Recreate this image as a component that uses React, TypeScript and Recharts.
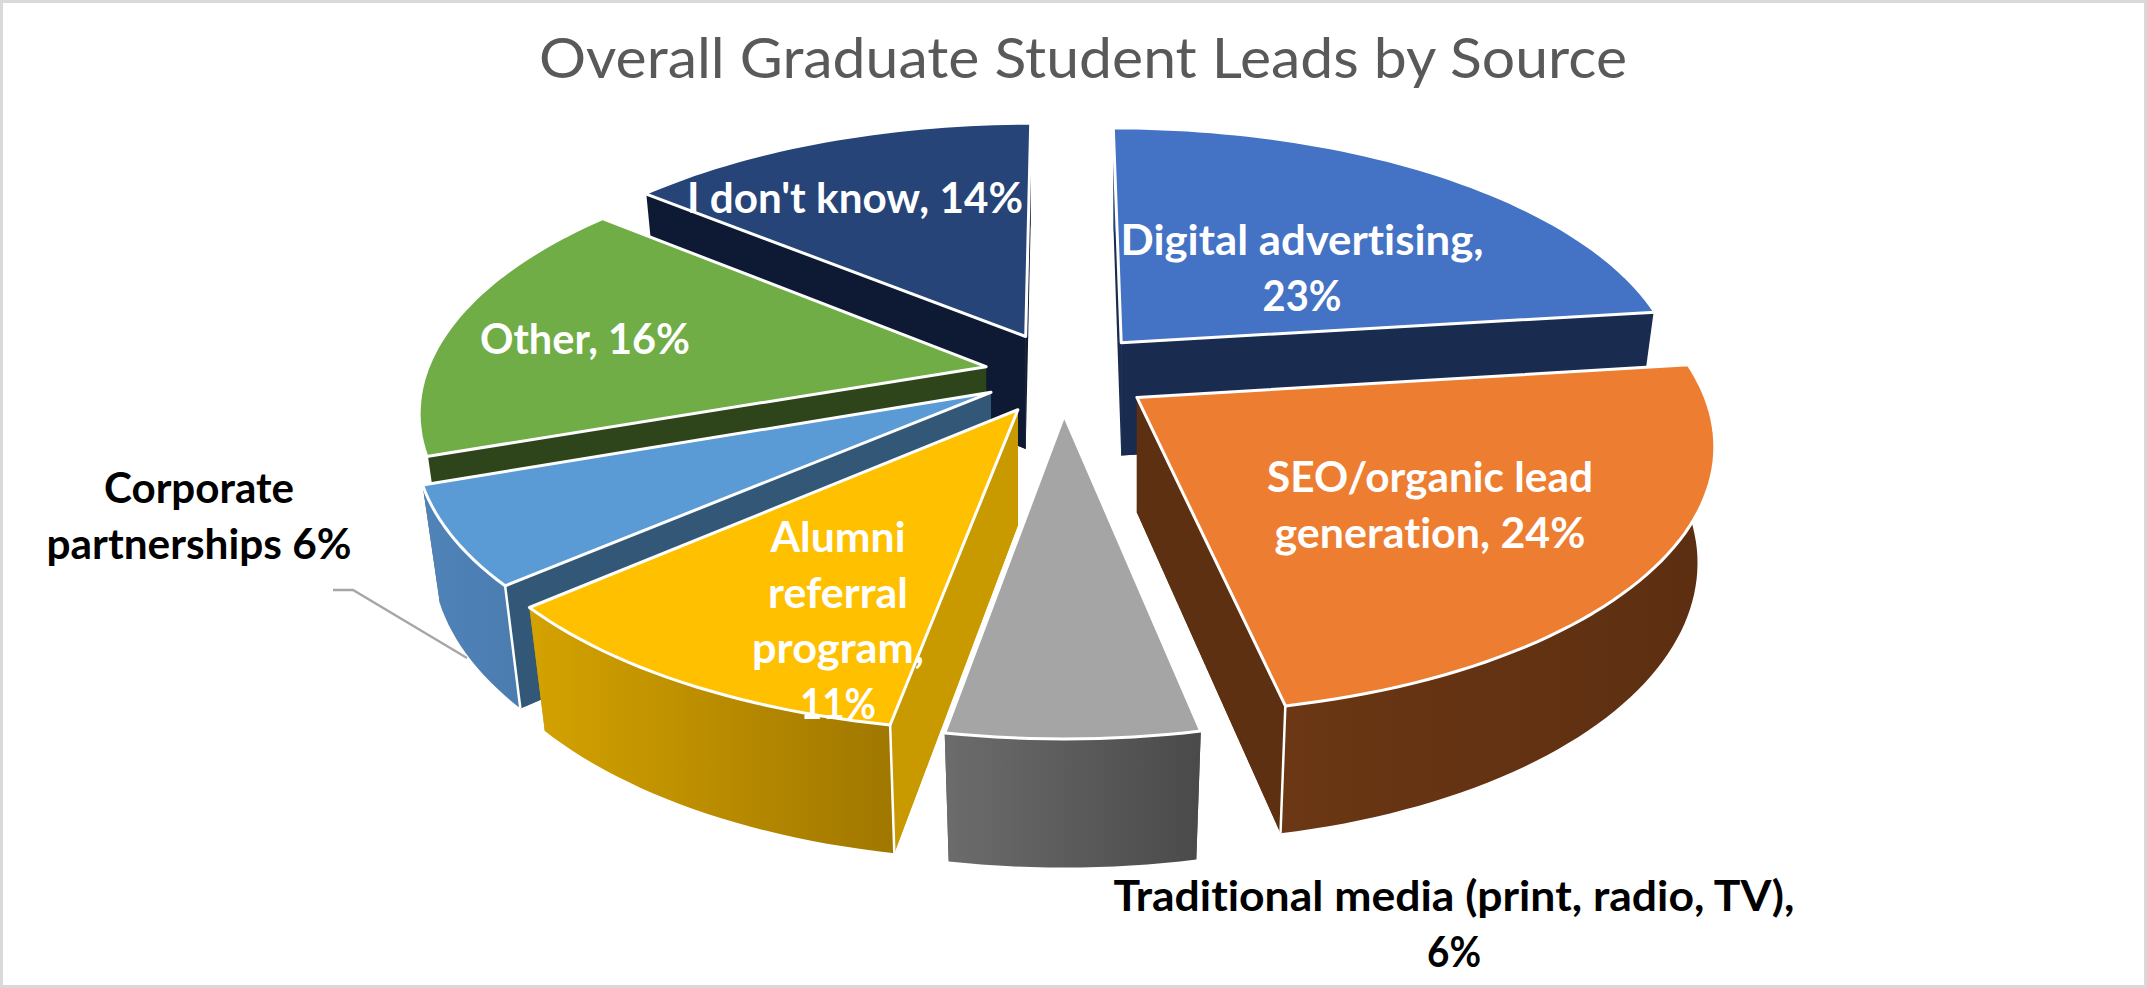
import React from "react";
import { PieChart, Pie } from "recharts";

const sources = [
  "Digital advertising",
  "SEO/organic lead generation",
  "Traditional media (print, radio, TV)",
  "Alumni referral program",
  "Corporate partnerships",
  "Other",
  "I don't know",
];
// Each rounds to the printed percentage.
const shares = [23, 23.8, 6, 10.8, 6, 16.4, 14];
const chartData = sources.map((name, i) => ({ name, value: shares[i] }));

const topColors = ["#4472c4", "#ed7d31", "#a5a5a5", "#ffc000", "#5b9bd5", "#70ad47", "#264478"];
const cutColors = ["#1a2b50", "#5e3012", "#555555", "#c99a00", "#335877", "#2e441a", "#0e1a33"];
const rimFrom = ["#2a4476", "#6b3714", "#6c6c6c", "#d4a200", "#5083b8", "#5d8f38", "#16294a"];
const rimTo = ["#2a4476", "#5c2e11", "#4a4a4a", "#a07700", "#4a7cb0", "#5d8f38", "#16294a"];
const explode = [0.16, 0.16, 0.16, 0.16, 0.147, 0.14, 0.16];
const drawOrder = [6, 0, 5, 4, 3, 2, 1];

const labelLines = [
  ["Digital advertising,", "23%"],
  ["SEO/organic lead", "generation, 24%"],
  ["Traditional media (print, radio, TV),", "6%"],
  ["Alumni", "referral", "program,", "11%"],
  ["Corporate", "partnerships 6%"],
  ["Other, 16%"],
  ["I don't know, 14%"],
];
const labelColors = ["#fff", "#fff", "#000", "#fff", "#000", "#fff", "#fff"];
// centre x, first baseline, line widths
const labelBoxes = [
  { x: 1302, y: 255, w: [363, 79] },
  { x: 1430, y: 492, w: [326, 311] },
  { x: 1454, y: 911, w: [681, 54] },
  { x: 838, y: 552, w: [135, 140, 172, 76] },
  { x: 199, y: 503, w: [190, 305] },
  { x: 585, y: 354, w: [210] },
  { x: 855, y: 213, w: [336] },
];

const TILT = 0.158;
const SQUASH = 0.46;
const DEPTH = 114;
const rad = (d: number) => (d * Math.PI) / 180;

function geometry(props: any) {
  const { cx, cy, outerRadius: R, startAngle, endAngle, index } = props;
  const t0 = 90 - startAngle;
  const t1 = 90 - endAngle;
  const mid = (t0 + t1) / 2;
  const ex = explode[index] * Math.sin(rad(mid));
  const ey = -explode[index] * Math.cos(rad(mid));
  const project = (X: number, Y: number) => {
    const w = 1 - TILT * Y;
    return { x: cx + (R * X) / w, y: cy + (SQUASH * R * Y) / w, w };
  };
  const apex = project(ex, ey);
  const top = (t: number) => project(ex + Math.sin(rad(t)), ey - Math.cos(rad(t)));
  const low = (t: number) => {
    const p = top(t);
    const d = DEPTH / Math.pow(p.w, 0.6);
    return { x: apex.x + (p.x - apex.x) * (1 - d * 0.000256), y: p.y + d };
  };
  return { t0, t1, apex, top, low };
}

const toPath = (pts: { x: number; y: number }[]) =>
  pts.map((p, i) => `${i ? "L" : "M"}${p.x.toFixed(1)} ${p.y.toFixed(1)}`).join(" ") + " Z";

function makeSlice(layer: number) {
  return function Slice(props: any) {
    if (props.index !== layer) return <g />;
    const { t0, t1, apex, top, low } = geometry(props);
    const arc: number[] = [];
    const n = Math.max(6, Math.ceil((t1 - t0) / 1.5));
    for (let i = 0; i <= n; i++) arc.push(t0 + ((t1 - t0) * i) / n);
    const apexLow = { x: apex.x, y: apex.y + DEPTH / Math.pow(apex.w, 0.6) };
    const rimTop = arc.map(top);
    const rimLow = arc.map(low);
    const rimWall = toPath([...rimTop, ...[...rimLow].reverse()]);
    const cutStart = toPath([apex, top(t0), low(t0), apexLow]);
    const cutEnd = toPath([apex, top(t1), low(t1), apexLow]);
    const startShown = Math.sin(rad(t0)) < -0.01;
    const endShown = Math.sin(rad(t1)) > 0.01;
    const fill = cutColors[layer];
    return (
      <g>
        <path d={cutStart} fill={fill} />
        <path d={cutEnd} fill={fill} />
        <path d={rimWall} fill={`url(#rim${layer})`} />
        {startShown && <path d={cutStart} fill={fill} />}
        {endShown && <path d={cutEnd} fill={fill} />}
        {startShown && (
          <line x1={top(t0).x} y1={top(t0).y} x2={low(t0).x} y2={low(t0).y} stroke="#fff" strokeWidth={2.5} />
        )}
        {endShown && (
          <line x1={top(t1).x} y1={top(t1).y} x2={low(t1).x} y2={low(t1).y} stroke="#fff" strokeWidth={2.5} />
        )}
        <path
          d={toPath([apex, ...rimTop])}
          fill={topColors[layer]}
          stroke="#fff"
          strokeWidth={3}
          strokeLinejoin="round"
        />
      </g>
    );
  };
}

function renderLabel(props: any) {
  const i = props.index;
  const box = labelBoxes[i];
  return (
    <g key={i}>
      {i === 4 && <polyline points="333,590 353,590 467,658" fill="none" stroke="#a6a6a6" strokeWidth={2.3} />}
      {labelLines[i].map((line, k) => (
        <text
          key={k}
          x={box.x}
          y={box.y + k * 55.5}
          textAnchor="middle"
          fontFamily="Lato"
          fontWeight={700}
          fontSize={42}
          fill={labelColors[i]}
          textLength={box.w[k]}
          lengthAdjust="spacingAndGlyphs"
          style={{ fontVariantLigatures: "none" }}
        >
          {line}
        </text>
      ))}
    </g>
  );
}

const Nothing = () => <g />;

export default function App() {
  return (
    <div style={{ position: "absolute", left: 0, top: 0, width: 2147, height: 988, background: "#fff" }}>
      <PieChart width={2147} height={988} margin={{ top: 0, right: 0, bottom: 0, left: 0 }}>
        <defs>
          {topColors.map((_, i) => (
            <linearGradient key={i} id={`rim${i}`} x1="0" y1="0" x2="1" y2="0">
              <stop offset="0" stopColor={rimFrom[i]} />
              <stop offset="1" stopColor={rimTo[i]} />
            </linearGradient>
          ))}
        </defs>
        <rect x={1.5} y={1.5} width={2144} height={985} fill="#fff" stroke="#d9d9d9" strokeWidth={3} />
        <text
          x={1083}
          y={78}
          textAnchor="middle"
          fontFamily="Lato"
          fontSize={56}
          fill="#595959"
          textLength={1088}
          lengthAdjust="spacingAndGlyphs"
          style={{ fontVariantLigatures: "none" }}
        >
          Overall Graduate Student Leads by Source
        </text>
        {drawOrder.map((layer) => (
          <Pie
            key={layer}
            data={chartData}
            dataKey="value"
            nameKey="name"
            cx={1063}
            cy={373}
            innerRadius={0}
            outerRadius={560}
            startAngle={90}
            endAngle={-270}
            paddingAngle={0}
            stroke="none"
            shape={makeSlice(layer)}
            isAnimationActive={false}
          />
        ))}
        <Pie
          data={chartData}
          dataKey="value"
          cx={1063}
          cy={373}
          innerRadius={0}
          outerRadius={560}
          startAngle={90}
          endAngle={-270}
          shape={Nothing}
          label={renderLabel}
          labelLine={false}
          isAnimationActive={false}
        />
      </PieChart>
    </div>
  );
}
